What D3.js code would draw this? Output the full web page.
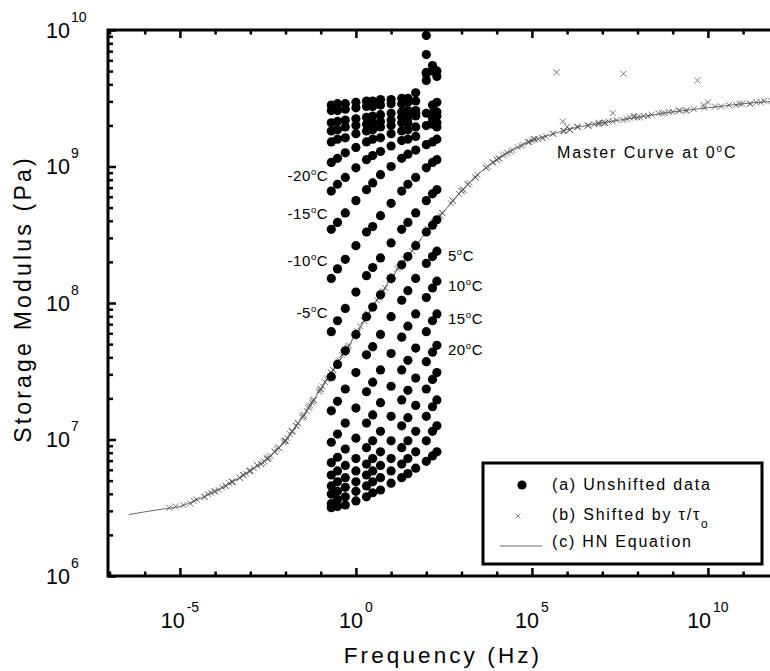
<!DOCTYPE html>
<html>
<head>
<meta charset="utf-8">
<script src="https://cdn.jsdelivr.net/npm/d3@7"></script>
<style>
    body { margin: 0; background: #fff; }
    svg { display: block; font-family: "Liberation Sans", Arial, Helvetica, sans-serif; }
</style>
</head>
<body>
<svg id="chart" width="770" height="671"></svg>
<script>
// measured frequencies (Hz) of each isotherm
let freqs = [0.2, 0.3, 0.5, 1, 2, 3, 5, 10, 20, 30, 50, 100, 150, 200]

// isotherm temperatures (C) and their shift factors log10(tau/tau_o)
let temps = [-50, -45, -40, -35, -30, -25, -20, -15, -10, -5, 0, 5, 10, 15, 20, 25, 30, 35, 40]
let logShift = [11.5, 9.9, 7.7, 6.6, 5.6, 4.6, 3.7, 2.75, 1.7, 0.75, 0, -0.7, -1.35, -1.95, -2.5, -3.0, -3.5, -4.0, -4.6]

// log10 storage modulus (Pa), one row per temperature, one column per frequency
let logModulus = [
    [9.45, 9.46, 9.46, 9.47, 9.48, 9.48, 9.49, 9.49, 9.50, 9.50, 9.54, 9.96, 9.70, 9.66],
    [9.41, 9.41, 9.42, 9.43, 9.44, 9.44, 9.45, 9.46, 9.46, 9.47, 9.48, 9.82, 9.74, 9.70],
    [9.32, 9.33, 9.34, 9.35, 9.36, 9.37, 9.38, 9.39, 9.40, 9.41, 9.41, 9.63, 9.45, 9.47],
    [9.26, 9.27, 9.29, 9.30, 9.31, 9.32, 9.33, 9.34, 9.36, 9.36, 9.37, 9.39, 9.39, 9.40],
    [9.18, 9.20, 9.21, 9.24, 9.26, 9.27, 9.29, 9.30, 9.32, 9.32, 9.39, 9.68, 9.36, 9.37],
    [9.03, 9.06, 9.10, 9.14, 9.18, 9.20, 9.21, 9.24, 9.26, 9.27, 9.29, 9.30, 9.31, 9.32],
    [8.82, 8.87, 8.92, 8.99, 9.05, 9.08, 9.11, 9.15, 9.19, 9.20, 9.22, 9.69, 9.33, 9.29],
    [8.54, 8.59, 8.66, 8.75, 8.83, 8.88, 8.94, 9.00, 9.06, 9.09, 9.12, 9.16, 9.18, 9.20],
    [8.18, 8.25, 8.32, 8.42, 8.52, 8.56, 8.64, 8.73, 8.82, 8.87, 8.92, 8.99, 9.03, 9.05],
    [7.79, 7.87, 7.96, 8.08, 8.20, 8.26, 8.33, 8.44, 8.54, 8.59, 8.66, 8.75, 8.80, 8.83],
    [7.46, 7.55, 7.65, 7.77, 7.90, 7.97, 8.06, 8.18, 8.28, 8.34, 8.42, 8.52, 8.57, 8.61],
    [7.21, 7.28, 7.37, 7.49, 7.62, 7.68, 7.77, 7.90, 8.02, 8.09, 8.18, 8.29, 8.34, 8.38],
    [6.98, 7.04, 7.12, 7.23, 7.35, 7.42, 7.51, 7.63, 7.75, 7.83, 7.92, 8.04, 8.11, 8.16],
    [6.83, 6.87, 6.93, 7.01, 7.12, 7.18, 7.27, 7.39, 7.51, 7.58, 7.67, 7.79, 7.87, 7.92],
    [6.74, 6.77, 6.81, 6.86, 6.94, 6.99, 7.06, 7.17, 7.29, 7.36, 7.45, 7.57, 7.64, 7.69],
    [6.66, 6.69, 6.72, 6.77, 6.82, 6.86, 6.91, 6.99, 7.10, 7.16, 7.25, 7.37, 7.44, 7.49],
    [6.60, 6.62, 6.65, 6.69, 6.74, 6.77, 6.81, 6.86, 6.94, 6.99, 7.06, 7.17, 7.24, 7.29],
    [6.53, 6.56, 6.58, 6.62, 6.66, 6.69, 6.72, 6.77, 6.82, 6.86, 6.91, 6.99, 7.06, 7.10],
    [6.50, 6.51, 6.52, 6.55, 6.58, 6.61, 6.63, 6.68, 6.72, 6.75, 6.79, 6.84, 6.88, 6.91]
]

// HN equation master curve at 0 C (log10 f, log10 E')
let hnLogF = [-6.45, -6, -5.5, -5, -4.5, -4, -3.5, -3, -2.5, -2, -1.5, -1, -0.5, 0, 0.5, 1, 1.5, 2,
    2.5, 3, 3.5, 4, 4.5, 5, 5.5, 6, 7, 8, 9, 10, 11, 12]
let hnLogE = [6.45, 6.47, 6.49, 6.51, 6.56, 6.62, 6.69, 6.77, 6.86, 6.99, 7.17, 7.37, 7.57, 7.77, 7.98, 8.18, 8.35, 8.52,
    8.67, 8.82, 8.95, 9.05, 9.13, 9.19, 9.23, 9.27, 9.32, 9.36, 9.40, 9.43, 9.46, 9.48]

let leftLabelTemps = [-20, -15, -10, -5]
let rightLabelTemps = [5, 10, 15, 20]
let xMajorExp = [-5, 0, 5, 10]
let yMajorExp = [6, 7, 8, 9, 10]

const svg = d3.select('#chart')

const x = d3.scaleLog().domain([1e-7, 1e12]).range([109.5, 778.3])
const y = d3.scaleLog().domain([1e6, 1e10]).range([576, 30])

let unshifted = []
let shifted = []
temps.forEach((t, i) => {
    freqs.forEach((f, j) => {
        let e = Math.pow(10, logModulus[i][j])
        unshifted.push({ t: t, f: f, e: e })
        shifted.push({ t: t, f: f * Math.pow(10, logShift[i]), e: e })
    })
})

svg.append('clipPath').attr('id', 'plot-clip')
    .append('rect')
    .attr('x', 109.5).attr('y', 29)
    .attr('width', 680).attr('height', 548)

let plot = svg.append('g').attr('clip-path', 'url(#plot-clip)')

// HN curve
let hnPoints = hnLogF.map((v, i) => [Math.pow(10, v), Math.pow(10, hnLogE[i])])
let line = d3.line()
    .x(d => x(d[0]))
    .y(d => y(d[1]))
    .curve(d3.curveMonotoneX)

plot.append('path')
    .datum(hnPoints)
    .attr('d', line)
    .attr('fill', 'none')
    .attr('stroke', '#555')
    .attr('stroke-width', 0.9)

// shifted data (crosses)
const crossPath = 'M-3,-3L3,3M-3,3L3,-3'
plot.append('g')
    .selectAll('path')
    .data(shifted)
    .join('path')
    .attr('d', crossPath)
    .attr('transform', d => `translate(${x(d.f)},${y(d.e)})`)
    .attr('stroke', '#555')
    .attr('stroke-width', 0.8)
    .attr('fill', 'none')

// unshifted data (dots)
plot.append('g')
    .selectAll('circle')
    .data(unshifted)
    .join('circle')
    .attr('cx', d => x(d.f))
    .attr('cy', d => y(d.e))
    .attr('r', 4.6)
    .attr('fill', '#000')

// ticks
let yMinor = []
d3.range(6, 10).forEach(k => d3.range(2, 10).forEach(m => yMinor.push(m * Math.pow(10, k))))
let xMinor = d3.range(-7, 13).filter(k => !xMajorExp.includes(k)).map(k => Math.pow(10, k))
let xMajor = xMajorExp.map(k => Math.pow(10, k))
let yMajor = yMajorExp.map(k => Math.pow(10, k))

function styleAxis(g) {
    g.select('.domain').remove()
    g.selectAll('.tick line').attr('stroke', '#000').attr('stroke-width', 2.5)
    g.selectAll('.tick text').remove()
}

svg.append('g').attr('transform', 'translate(108,0)')
    .call(d3.axisLeft(y).tickValues(yMajor).tickSize(-8).tickFormat('')).call(styleAxis)
svg.append('g').attr('transform', 'translate(108,0)')
    .call(d3.axisLeft(y).tickValues(yMinor).tickSize(-5).tickFormat('')).call(styleAxis)

svg.append('g').attr('transform', 'translate(0,576)')
    .call(d3.axisBottom(x).tickValues(xMajor).tickSize(-8).tickFormat('')).call(styleAxis)
svg.append('g').attr('transform', 'translate(0,576)')
    .call(d3.axisBottom(x).tickValues(xMinor).tickSize(-4.5).tickFormat('')).call(styleAxis)
svg.append('g').attr('transform', 'translate(0,30)')
    .call(d3.axisTop(x).tickValues(xMajor).tickSize(-8).tickFormat('')).call(styleAxis)
svg.append('g').attr('transform', 'translate(0,30)')
    .call(d3.axisTop(x).tickValues(xMinor).tickSize(-4.5).tickFormat('')).call(styleAxis)

// frame
svg.append('path')
    .attr('d', 'M770,30H108V576H770')
    .attr('fill', 'none')
    .attr('stroke', '#000')
    .attr('stroke-width', 3)

// tick labels
yMajorExp.forEach(k => {
    let t = svg.append('text')
        .attr('x', 46)
        .attr('y', y(Math.pow(10, k)) + 7.5)
        .attr('font-size', 21.5)
    t.append('tspan').text('10')
    t.append('tspan').attr('dx', 1).attr('dy', -16).attr('font-size', 14).text(k)
})

xMajorExp.forEach(k => {
    let t = svg.append('text')
        .attr('x', x(Math.pow(10, k)))
        .attr('y', 628)
        .attr('text-anchor', 'middle')
        .attr('font-size', 21.5)
    t.append('tspan').text('10')
    t.append('tspan').attr('dx', 2).attr('dy', -16).attr('font-size', 14).text(k)
})

// axis titles
svg.append('text')
    .attr('x', 443).attr('y', 663)
    .attr('text-anchor', 'middle')
    .attr('font-size', 22.5)
    .attr('letter-spacing', 3.1)
    .text('Frequency (Hz)')

svg.append('text')
    .attr('transform', 'translate(31,299) rotate(-90)')
    .attr('text-anchor', 'middle')
    .attr('font-size', 23)
    .attr('letter-spacing', 3.2)
    .text('Storage Modulus (Pa)')

// temperature labels
function tempLabel(sel, t) {
    sel.append('tspan').text(t)
    sel.append('tspan').attr('dy', -6).attr('font-size', 9.5).text('o')
    sel.append('tspan').attr('dy', 6).text('C')
}

leftLabelTemps.forEach(t => {
    let i = temps.indexOf(t)
    let lbl = svg.append('text')
        .attr('x', x(freqs[0]) - 3)
        .attr('y', y(Math.pow(10, logModulus[i][1])) - 3)
        .attr('text-anchor', 'end')
        .attr('font-size', 15)
        .attr('letter-spacing', 0.6)
    tempLabel(lbl, t)
})

rightLabelTemps.forEach(t => {
    let i = temps.indexOf(t)
    let last = freqs.length - 1
    let lbl = svg.append('text')
        .attr('x', x(freqs[last]) + 11)
        .attr('y', y(Math.pow(10, logModulus[i][last])) + 10)
        .attr('font-size', 15)
        .attr('letter-spacing', 0.6)
    tempLabel(lbl, t)
})

let master = svg.append('text')
    .attr('x', 557).attr('y', 158)
    .attr('font-size', 16)
    .attr('letter-spacing', 1.9)
master.append('tspan').text('Master Curve at 0')
master.append('tspan').attr('dy', -6).attr('font-size', 10).text('o')
master.append('tspan').attr('dy', 6).text('C')

// legend
let legend = svg.append('g')
legend.append('rect')
    .attr('x', 483).attr('y', 463)
    .attr('width', 279).attr('height', 101)
    .attr('fill', '#fff')
    .attr('stroke', '#000')
    .attr('stroke-width', 3)

legend.append('circle').attr('cx', 522).attr('cy', 485).attr('r', 4.6).attr('fill', '#000')
legend.append('path').attr('d', crossPath).attr('transform', 'translate(518,516) scale(0.8)')
    .attr('stroke', '#555').attr('stroke-width', 0.9)
legend.append('line').attr('x1', 500).attr('x2', 542).attr('y1', 546).attr('y2', 546)
    .attr('stroke', '#555').attr('stroke-width', 0.9)

let legendFont = 16
legend.append('text').attr('x', 552).attr('y', 490)
    .attr('font-size', legendFont).attr('letter-spacing', 1.8)
    .text('(a) Unshifted data')
let lb = legend.append('text').attr('x', 552).attr('y', 520)
    .attr('font-size', legendFont).attr('letter-spacing', 1.8)
lb.append('tspan').text('(b) Shifted by \u03c4/\u03c4')
lb.append('tspan').attr('dy', 8).attr('font-size', 12).text('o')
legend.append('text').attr('x', 552).attr('y', 547)
    .attr('font-size', legendFont).attr('letter-spacing', 1.8)
    .text('(c) HN Equation')
</script>
</body>
</html>
